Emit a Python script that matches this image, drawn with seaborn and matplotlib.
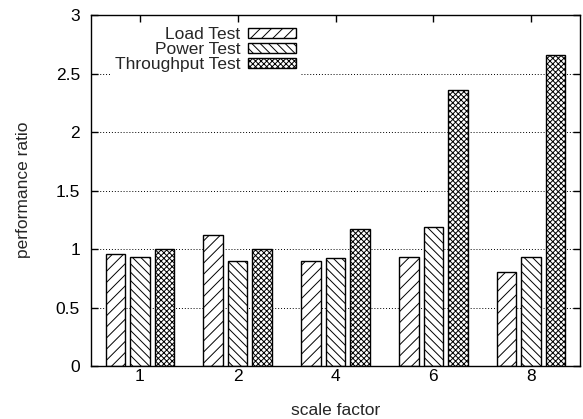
import matplotlib
matplotlib.use("Agg")
from matplotlib import pyplot as plt
from matplotlib.patches import Patch
import seaborn as sns
import pandas as pd

scale_factors = ["1", "2", "4", "6", "8"]
load_test = [0.96, 1.12, 0.90, 0.93, 0.80]
power_test = [0.93, 0.90, 0.92, 1.19, 0.93]
throughput_test = [1.00, 1.00, 1.17, 2.36, 2.66]
series_names = ["Load Test", "Power Test", "Throughput Test"]
hatches = ["///", "\\\\\\\\", "xxxxxx"]

df = pd.DataFrame({
    "scale": scale_factors * 3,
    "ratio": load_test + power_test + throughput_test,
    "test": [s for s in series_names for _ in scale_factors],
})

sns.set_style("ticks")
plt.rcParams["font.family"] = ["Liberation Sans", "DejaVu Sans"]
plt.rcParams["hatch.linewidth"] = 0.7
fs = 12.5

fig = plt.figure(figsize=(5.83, 4.19), dpi=100)
ax = fig.add_axes([91 / 583, 1 - 366 / 419, (580 - 91) / 583, (366 - 15) / 419])

sns.barplot(data=df, x="scale", y="ratio", hue="test", order=scale_factors,
            hue_order=series_names, palette=["white"] * 3, edgecolor="black",
            linewidth=1.0, width=0.75, gap=0.2, legend=False, ax=ax, zorder=2)

for cont, h in zip(ax.containers, hatches):
    for bar in cont:
        bar.set_hatch(h)
        bar.set_facecolor("white")
        bar.set_edgecolor("black")

ax.set_xlim(-0.5, 4.5)
ax.set_ylim(0, 3)
ax.set_yticks([0, 0.5, 1, 1.5, 2, 2.5, 3])
ax.set_yticklabels(["0", "0.5", "1", "1.5", "2", "2.5", "3"])
ax.yaxis.grid(True, linestyle=(0, (1, 2)), color="black", linewidth=0.7, zorder=0)
ax.set_axisbelow(True)
ax.tick_params(direction="in", length=5, width=1, top=True, right=True,
               labelsize=fs, colors="black")
ax.tick_params(axis="y", pad=8)
ax.tick_params(axis="x", pad=2)
for sp in ax.spines.values():
    sp.set_visible(True)
    sp.set_linewidth(1.0)
    sp.set_color("black")
    sp.set_zorder(3)

ax.set_xlabel("scale factor", fontsize=fs)
ax.set_ylabel("performance ratio", fontsize=fs)
ax.xaxis.set_label_coords(335.5 / 583, 1 - 403 / 419, transform=fig.transFigure)
ax.yaxis.set_label_coords(31 / 583, 1 - 190 / 419, transform=fig.transFigure)

handles = [Patch(facecolor="white", edgecolor="black", hatch=h, linewidth=1.0)
           for h in hatches]
leg = ax.legend(handles, series_names, loc="upper right",
                bbox_to_anchor=(308 / 583, 1 - 15 / 419), bbox_transform=fig.transFigure,
                markerfirst=False, frameon=True, framealpha=1, edgecolor="white",
                fancybox=False, handlelength=2.75, handleheight=0.5,
                labelspacing=0.0, handletextpad=0.45, borderpad=0.2, fontsize=fs)
leg.set_zorder(2.2)
for t in leg.get_texts():
    t.set_ha("right")

fig.savefig("out.png", dpi=100)
